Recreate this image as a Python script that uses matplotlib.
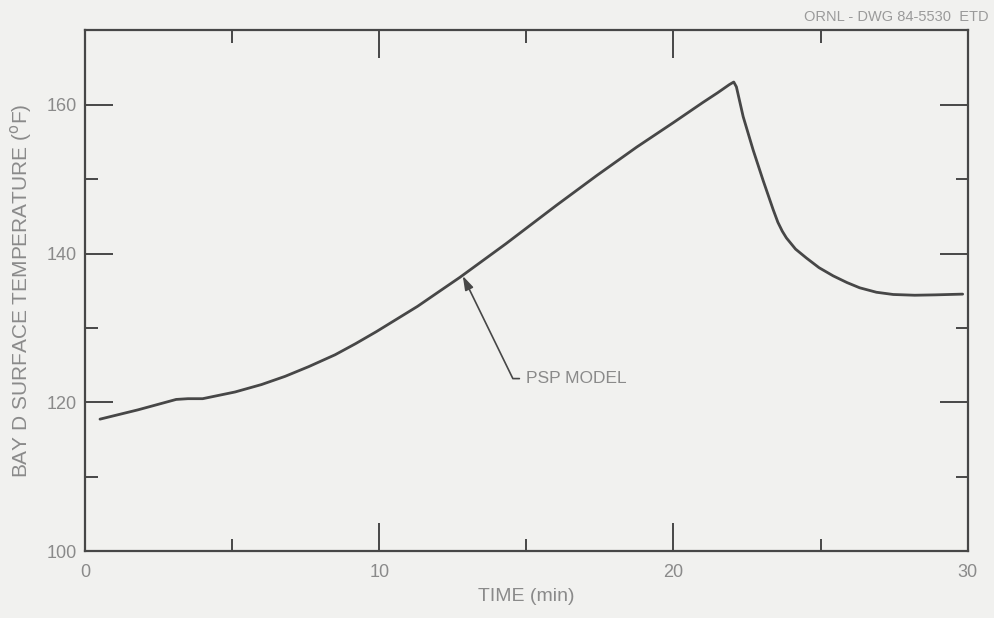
import matplotlib
matplotlib.use("Agg")
import matplotlib.pyplot as plt
from matplotlib.ticker import MultipleLocator

# PSP model prediction of Bay D surface temperature
time_min = [0.51, 1.8, 3.1, 3.5, 4.0, 5.1, 6.0, 6.8, 7.6, 8.5, 9.2, 9.9,
            10.6, 11.3, 12.0, 12.74, 14.3, 16.03, 17.4, 18.75, 20.0, 21.0,
            21.5, 21.9, 22.05, 22.14, 22.37, 22.71, 23.05, 23.39, 23.55,
            23.7, 23.84, 24.15, 24.52, 24.95, 25.43, 25.9, 26.33, 26.9,
            27.47, 28.2, 28.9, 29.83]
temp_f = [117.75, 119.0, 120.4, 120.5, 120.5, 121.4, 122.4, 123.5, 124.8,
          126.4, 127.9, 129.5, 131.2, 132.9, 134.8, 136.8, 141.3, 146.5,
          150.5, 154.3, 157.6, 160.3, 161.6, 162.7, 163.05, 162.4, 158.4,
          153.9, 149.8, 145.9, 144.2, 143.0, 142.1, 140.6, 139.4, 138.1,
          137.0, 136.1, 135.4, 134.8, 134.5, 134.4, 134.45, 134.55]

x_major = [0, 10, 20, 30]
y_major = [100, 120, 140, 160]

ink = "#474747"
label_grey = "#8a8a8a"
bg = "#f1f1ef"

plt.rcParams["font.family"] = ["Liberation Sans", "DejaVu Sans"]

fig = plt.figure(figsize=(9.94, 6.18), dpi=100, facecolor=bg)
ax = fig.add_axes([0.0855, 0.108, 0.888, 0.843], facecolor=bg)

ax.plot(time_min, temp_f, color=ink, lw=2.0, solid_capstyle="round",
        solid_joinstyle="round")

ax.set_xlim(0, 30)
ax.set_ylim(100, 170)
ax.set_xticks(x_major)
ax.set_yticks(y_major)
ax.xaxis.set_minor_locator(MultipleLocator(5))
ax.yaxis.set_minor_locator(MultipleLocator(10))

for sp in ax.spines.values():
    sp.set_color(ink)
    sp.set_linewidth(1.6)

ax.tick_params(which="both", direction="in", top=True, right=True,
               color=ink, width=1.4, labelcolor=label_grey, labelsize=13)
ax.tick_params(which="major", length=20)
ax.tick_params(which="minor", length=9)
ax.tick_params(axis="x", which="major", pad=9)
ax.tick_params(axis="y", which="major", pad=6)

ax.set_xlabel("TIME (min)", color=label_grey, fontsize=14, labelpad=5)
ax.set_ylabel(r"BAY D SURFACE TEMPERATURE ($^{\rm o}$F)", color=label_grey,
              fontsize=15, labelpad=9)

ax.annotate("PSP MODEL", xy=(12.84, 137.0), xytext=(15.0, 123.2),
            ha="left", va="center", color=label_grey, fontsize=12.5,
            arrowprops=dict(arrowstyle="-|>,head_length=0.7,head_width=0.22",
                            connectionstyle="angle,angleA=0,angleB=116,rad=0",
                            color=ink, lw=1.2, shrinkA=3, shrinkB=0,
                            mutation_scale=12))

fig.text(0.995, 0.972, "ORNL - DWG 84-5530  ETD", ha="right", va="center",
         color="#9a9a9a", fontsize=10.5)

fig.savefig("out.png", dpi=100, facecolor=bg)
